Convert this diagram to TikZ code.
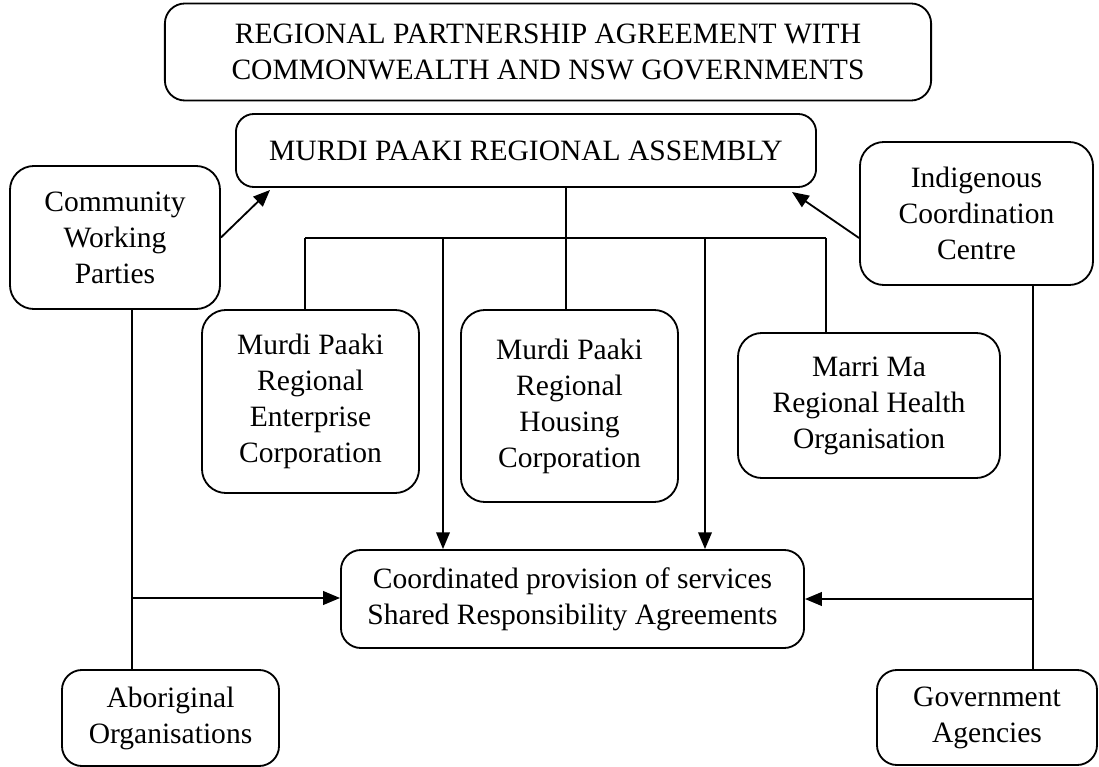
\documentclass[tikz,border=0pt]{standalone}
\usepackage{fontspec}
\setmainfont{Liberation Serif}
\usetikzlibrary{arrows.meta}

\tikzset{
  box/.style={draw, line width=1.3pt, rounded corners=0.6cm, align=center,
    inner sep=0pt, font=\fontsize{21}{25.6}\selectfont},
  arr/.style={-{Triangle[length=0.42cm, width=0.34cm]}},
}

\begin{document}
\begin{tikzpicture}[x=0.025cm, y=-0.025cm, line width=1.3pt]

    % page frame
    \useasboundingbox (0,0) rectangle (1099,767);

    % top boxes
    \node[box, rounded corners=0.5cm, minimum width=19.15cm, minimum height=2.425cm] (rpa) at (548,52)
      {REGIONAL PARTNERSHIP AGREEMENT WITH\\COMMONWEALTH AND NSW GOVERNMENTS};
    \node[box, rounded corners=0.45cm, minimum width=14.5cm, minimum height=1.825cm] (assembly) at (526,150.5)
      {MURDI PAAKI REGIONAL ASSEMBLY};

    % side boxes
    \node[box, minimum width=5.25cm, minimum height=3.575cm] (working) at (115,237.5)
      {Community\\Working\\Parties};
    \node[box, minimum width=5.825cm, minimum height=3.575cm] (icc) at (976.5,213.5)
      {Indigenous\\Coordination\\Centre};

    % corporations
    \node[box, minimum width=5.425cm, minimum height=4.575cm] (enterprise) at (310.5,401.5)
      {Murdi Paaki\\Regional\\Enterprise\\Corporation};
    \node[box, minimum width=5.425cm, minimum height=4.8cm] (housing) at (569.5,406)
      {Murdi Paaki\\Regional\\Housing\\Corporation};
    \node[box, minimum width=6.55cm, minimum height=3.625cm] (health) at (869,405.5)
      {Marri Ma\\Regional Health\\Organisation};

    % services
    \node[box, rounded corners=0.5cm, minimum width=11.575cm, minimum height=2.45cm] (services) at (572.5,599)
      {Coordinated provision of services\\Shared Responsibility Agreements};

    % bottom boxes
    \node[box, rounded corners=0.5cm, minimum width=5.425cm, minimum height=2.4cm] (aboriginal) at (170.5,718)
      {Aboriginal\\Organisations};
    \node[box, rounded corners=0.5cm, minimum width=5.5cm, minimum height=2.375cm] (agencies) at (987,717.5)
      {Government\\Agencies};

    % bus
    \coordinate (c1) at (305,238);
    \coordinate (c2) at (443,238);
    \coordinate (c3) at (566,238);
    \coordinate (c4) at (705,238);
    \coordinate (c5) at (826,238);
    \draw (c1) -- (c5);
    \draw (assembly.south -| c3) -- (housing.north -| c3);
    \draw (c1) -- (enterprise.north -| c1);
    \draw (c5) -- (health.north -| c5);
    \draw[arr] (c2) -- (services.north -| c2);
    \draw[arr] (c4) -- (services.north -| c4);

    % diagonal arrows
    \coordinate (aw) at (270,190);
    \coordinate (ae) at (792,192);
    \draw[arr] (working.east) -- (aw);
    \draw[arr] (icc.west |- c1) -- (ae);

    % left and right feeds
    \coordinate (lv) at (132,598);
    \coordinate (rv) at (1033,599);
    \draw (working.south -| lv) -- (aboriginal.north -| lv);
    \draw[arr] (lv) -- (services.west |- lv);
    \draw (icc.south -| rv) -- (agencies.north -| rv);
    \draw[arr] (rv) -- (services.east |- rv);

  \end{tikzpicture}
\end{document}
